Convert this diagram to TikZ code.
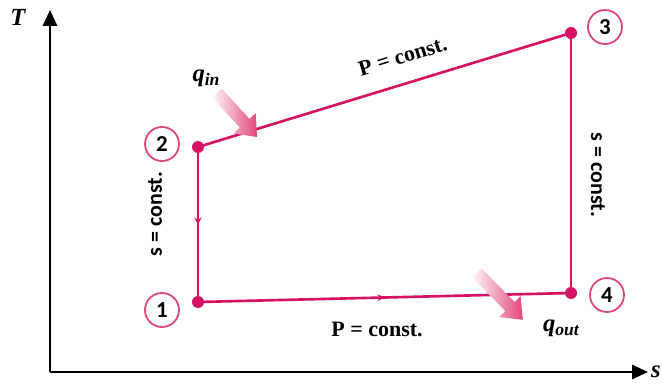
\documentclass[tikz,border=0pt]{standalone}
\usepackage{fontspec}
\setmainfont{Liberation Serif}
\setsansfont{Carlito}
\usepackage{tikz}
\usetikzlibrary{arrows.meta, positioning, decorations.markings}

\definecolor{cycle}{RGB}{214,18,100}
\definecolor{ring}{RGB}{222,70,120}
\definecolor{heat}{RGB}{226,70,120}

\newcommand{\subtxt}[1]{\raisebox{-0.35ex}{\fontsize{10}{12}\selectfont #1}}

\begin{document}
\begin{tikzpicture}[>=Stealth, font=\fontsize{12}{14}\selectfont,
    axis/.style={line width=1.4pt, -{Triangle[length=9pt, width=8pt]}},
    path/.style={cycle, line width=1.5pt},
    state/.style={circle, fill=cycle, inner sep=0pt, minimum size=0.24cm},
    num/.style={circle, draw=ring, line width=1pt, minimum size=0.68cm, inner sep=0pt, text=black, font=\sffamily\bfseries\fontsize{13}{15}\selectfont},
    lbl/.style={text=black, font=\bfseries\fontsize{12.5}{14}\selectfont},
    slbl/.style={text=black, font=\sffamily\bfseries\fontsize{12.5}{14}\selectfont},
    midarrow/.style={postaction={decorate}, decoration={markings,
        mark=at position 0.5 with {\arrow{Stealth[length=4pt, width=4pt]}}}}]
    \useasboundingbox (0,0) rectangle (13.24,7.7);

    % axes
    \coordinate (O) at (1.0,0.26);
    \coordinate (Ttop) at (1.0,7.5);
    \coordinate (Send) at (12.96,0.26);
    \draw[axis] (O) -- (Ttop);
    \draw[axis] (O) -- (Send);
    \node[font=\bfseries\itshape\fontsize{14}{16}\selectfont] (T) at (0.36,7.36) {T};
    \node[font=\bfseries\itshape\fontsize{14}{16}\selectfont, anchor=east, inner sep=0.5pt] (S) at (13.24,0.26) {s};

    % states
    \node[state] (p1) at (3.96,1.66) {};
    \node[state] (p2) at (3.96,4.76) {};
    \node[state] (p3) at (11.42,7.04) {};
    \node[state] (p4) at (11.42,1.84) {};

    \node[num] (n1) at (3.24,1.5) {1};
    \node[num] (n2) at (3.24,4.82) {2};
    \node[num] (n3) at (12.1,7.16) {3};
    \node[num] (n4) at (12.14,1.8) {4};

    % cycle
    \draw[path] (p1.center) -- (p2.center);
    \draw[path, midarrow] (p2.center) -- (p1.center);
    \draw[path] (p2.center) -- node[lbl, sloped, above=7pt, pos=0.57] (ptop) {P = const.} (p3.center);
    \draw[path] (p3.center) -- (p4.center);
    \draw[path, midarrow] (p1.center) -- node[lbl, below=10pt, pos=0.48] (pbot) {P = const.} (p4.center);

    \node[slbl, rotate=90] (sleft) at (3.1,3.42) {s = const.};
    \node[slbl, rotate=-90] (sright) at (11.96,4.2) {s = const.};

    % heat arrows
    \begin{scope}[shift={(4.34,5.84)}, rotate=-47.7]
        \shade[left color=heat!5, right color=heat] (0,-0.13) -- (0.82,-0.13) -- (0.82,-0.3) -- (1.19,0) -- (0.82,0.3) -- (0.82,0.13) -- (0,0.13) -- cycle;
    \end{scope}
    \begin{scope}[shift={(9.54,2.24)}, rotate=-45.6]
        \shade[left color=heat!5, right color=heat] (0,-0.13) -- (0.94,-0.13) -- (0.94,-0.3) -- (1.31,0) -- (0.94,0.3) -- (0.94,0.13) -- (0,0.13) -- cycle;
    \end{scope}
    \node[lbl, font=\bfseries\itshape\fontsize{14}{16}\selectfont] (qin) at (4.12,6.14) {q\subtxt{in}};
    \node[lbl, font=\bfseries\itshape\fontsize{14}{16}\selectfont] (qout) at (11.22,1.14) {q\subtxt{out}};
\end{tikzpicture}
\end{document}
